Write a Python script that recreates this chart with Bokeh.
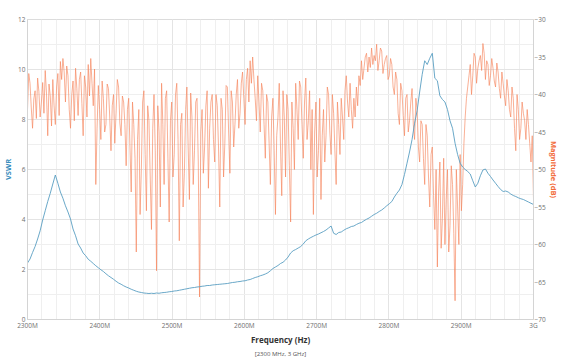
import numpy as np
from bokeh.plotting import figure
from bokeh.models import Range1d, LinearAxis, FixedTicker, Title
from bokeh.embed import file_html
from bokeh.resources import INLINE

# ---- data -------------------------------------------------------------
FREQ_START_MHZ = 2300
FREQ_STOP_MHZ = 3000
N_VSWR = 201
N_DB = 401
freq_vswr = np.linspace(FREQ_START_MHZ, FREQ_STOP_MHZ, N_VSWR)
freq_db = np.linspace(FREQ_START_MHZ, FREQ_STOP_MHZ, N_DB)

# S11 VSWR (left axis)
s11_vswr = [
    2.26, 2.42, 2.68, 2.92, 3.22, 3.55, 3.98, 4.35, 4.72, 5.05,
    5.42, 5.78, 5.45, 5.10, 4.85, 4.55, 4.30, 4.02, 3.62, 3.35,
    3.02, 2.86, 2.66, 2.55, 2.41, 2.33, 2.24, 2.15, 2.07, 1.99,
    1.92, 1.83, 1.75, 1.68, 1.61, 1.53, 1.46, 1.41, 1.35, 1.30,
    1.26, 1.21, 1.17, 1.13, 1.10, 1.08, 1.06, 1.05, 1.04, 1.05,
    1.04, 1.06, 1.05, 1.07, 1.08, 1.09, 1.11, 1.12, 1.14, 1.15,
    1.17, 1.19, 1.21, 1.23, 1.25, 1.27, 1.28, 1.30, 1.31, 1.33,
    1.34, 1.36, 1.36, 1.38, 1.39, 1.40, 1.41, 1.42, 1.43, 1.44,
    1.46, 1.48, 1.49, 1.51, 1.52, 1.54, 1.55, 1.58, 1.60, 1.64,
    1.68, 1.71, 1.75, 1.78, 1.82, 1.87, 1.95, 2.04, 2.10, 2.16,
    2.24, 2.29, 2.38, 2.50, 2.66, 2.75, 2.80, 2.86, 2.92, 3.02,
    3.15, 3.22, 3.28, 3.33, 3.38, 3.42, 3.47, 3.52, 3.58, 3.66,
    3.74, 3.45, 3.40, 3.48, 3.50, 3.57, 3.63, 3.67, 3.72, 3.74,
    3.80, 3.85, 3.88, 3.95, 4.01, 4.06, 4.13, 4.20, 4.25, 4.32,
    4.38, 4.46, 4.55, 4.63, 4.72, 4.90, 5.05, 5.18, 5.40, 5.80,
    6.25, 6.70, 7.20, 7.85, 8.35, 9.10, 9.80, 10.35, 10.20, 10.45,
    10.65, 9.65, 9.55, 8.95, 8.80, 8.70, 8.40, 7.95, 7.65, 7.05,
    6.60, 6.25, 6.10, 6.00, 5.92, 5.82, 5.55, 5.30, 5.45, 5.75,
    5.98, 6.02, 5.85, 5.72, 5.58, 5.45, 5.32, 5.20, 5.12, 5.14,
    5.10, 5.02, 4.96, 4.92, 4.87, 4.83, 4.80, 4.75, 4.70, 4.65,
    4.60,
]

# S21 magnitude in dB (right axis)
s21_db = [
    -42.0, -37.2, -38.5, -41.8, -44.5, -40.6, -39.5, -43.2, -37.8, -39.6,
    -43.0, -41.0, -38.4, -42.5, -36.8, -39.8, -45.5, -38.6, -40.2, -44.2,
    -38.0, -41.5, -44.0, -39.0, -37.2, -42.8, -35.6, -38.0, -35.2, -37.0,
    -41.0, -36.2, -37.5, -42.0, -44.5, -40.0, -38.2, -43.5, -36.5, -39.2,
    -42.8, -38.0, -37.0, -41.2, -45.5, -37.5, -39.0, -43.0, -36.0, -40.2,
    -35.2, -38.5, -41.5, -36.6, -52.0, -44.5, -38.8, -42.0, -46.0, -38.2,
    -40.5, -45.0, -44.0, -38.6, -39.2, -43.0, -47.5, -41.5, -40.0, -46.5,
    -42.5, -38.0, -39.0, -43.8, -45.5, -40.2, -41.0, -44.0, -49.5, -42.0,
    -40.5, -47.0, -53.0, -41.0, -44.0, -48.5, -61.0, -46.0, -42.0, -56.0,
    -50.0, -41.0, -39.5, -48.0, -55.5, -41.5, -43.5, -51.0, -58.0, -44.5,
    -40.0, -47.5, -63.5, -41.5, -45.0, -55.0, -38.5, -44.0, -52.0, -40.5,
    -39.5, -48.5, -57.0, -43.5, -41.0, -51.0, -48.0, -40.0, -38.5, -46.0,
    -59.5, -44.0, -42.5, -55.0, -50.5, -42.0, -39.0, -47.0, -54.0, -39.8,
    -43.0, -52.0, -47.5, -41.0, -40.5, -49.0, -67.0, -45.0, -42.0, -50.5,
    -47.0, -41.5, -39.5, -52.5, -44.5, -41.0, -40.0, -46.0, -49.0, -40.0,
    -41.5, -47.0, -55.0, -40.5, -42.0, -51.0, -46.5, -38.8, -39.0, -45.0,
    -50.5, -39.5, -41.0, -47.0, -44.0, -40.0, -38.0, -44.5, -42.5, -38.5,
    -37.0, -40.5, -44.0, -38.0, -36.5, -41.0, -35.5, -38.5, -35.0, -38.0,
    -40.5, -43.5, -37.5, -41.0, -45.0, -38.5, -39.5, -44.0, -48.5, -40.0,
    -41.0, -46.5, -52.0, -43.0, -40.5, -47.5, -56.0, -45.5, -43.0, -38.5,
    -47.0, -53.5, -39.5, -43.0, -51.0, -40.0, -42.0, -49.5, -57.0, -41.0,
    -44.5, -50.0, -38.5, -42.0, -46.0, -38.2, -39.0, -44.0, -48.5, -41.0,
    -37.8, -46.0, -43.5, -39.5, -50.0, -42.0, -56.0, -45.0, -41.0, -51.0,
    -47.5, -40.5, -54.0, -45.5, -42.0, -49.0, -45.5, -39.0, -40.0, -45.0,
    -48.0, -40.0, -42.5, -47.5, -52.0, -41.0, -44.0, -48.0, -40.5, -43.0,
    -46.0, -39.5, -37.5, -41.0, -43.0, -38.5, -42.0, -44.5, -40.5, -43.0,
    -39.0, -41.5, -37.5, -38.8, -35.5, -38.0, -36.5, -35.0, -34.5, -37.0,
    -35.0, -36.4, -33.8, -36.0, -34.8, -35.5, -33.3, -36.8, -35.5, -33.8,
    -34.2, -37.2, -36.0, -35.2, -34.8, -38.0, -37.5, -35.2, -36.0, -39.0,
    -40.0, -37.0, -38.0, -42.5, -44.0, -38.5, -39.5, -42.8, -45.5, -40.5,
    -40.0, -45.0, -43.5, -41.0, -39.2, -44.0, -46.0, -40.5, -42.0, -47.0,
    -49.0, -43.5, -44.0, -48.5, -52.0, -44.0, -45.5, -51.0, -55.0, -48.0,
    -47.0, -53.5, -58.0, -50.0, -63.0, -53.0, -49.0, -60.5, -56.5, -48.5,
    -60.0, -54.0, -50.0, -61.0, -57.5, -49.5, -52.0, -58.5, -67.5, -50.0,
    -55.0, -60.0, -48.0, -55.5, -52.0, -46.5, -43.0, -40.5, -39.0, -37.5,
    -36.0, -40.0, -37.5, -34.5, -35.0, -38.5, -36.5, -35.5, -34.8, -36.8,
    -33.2, -34.5, -38.0, -35.5, -36.0, -38.8, -37.5, -35.2, -36.5, -38.2,
    -39.0, -35.8, -37.0, -39.2, -40.5, -37.0, -38.5, -40.2, -41.5, -38.0,
    -39.5, -42.0, -43.0, -39.0, -40.5, -44.5, -47.5, -40.0, -42.0, -46.0,
    -44.5, -41.0, -42.5, -43.5, -46.0, -42.0, -44.0, -46.5, -49.0, -45.5,
    -54.0,
]

x_ticks = [2300, 2400, 2500, 2600, 2700, 2800, 2900, 3000]
x_tick_labels = ["2300M", "2400M", "2500M", "2600M", "2700M", "2800M", "2900M", "3G"]
x_minor_ticks = [2300 + 20 * k for k in range(36)]
vswr_ticks = [0, 2, 4, 6, 8, 10, 12]
vswr_minor_ticks = [1, 3, 5, 7, 9, 11]
db_ticks = [-70, -65, -60, -55, -50, -45, -40, -35, -30]

# ---- styling ----------------------------------------------------------
BLUE = "#5a9fc2"
ORANGE = "#f5825a"
TICK_COLOR = "#707070"
FONT = "Open Sans"

p = figure(
    width=560, height=357,
    x_range=Range1d(FREQ_START_MHZ, FREQ_STOP_MHZ),
    y_range=Range1d(0, 12),
    output_backend="svg", toolbar_location=None,
    min_border_left=27, min_border_right=14, min_border_top=19, min_border_bottom=35,
    background_fill_color="white", border_fill_color="white",
)
p.extra_y_ranges = {"db": Range1d(-70, -30)}

p.line(freq_db, s21_db, y_range_name="db", line_color=ORANGE, line_width=0.8, line_alpha=0.8)
p.line(freq_vswr, s11_vswr, line_color=BLUE, line_width=1, line_alpha=0.9)

right_axis = LinearAxis(y_range_name="db")
p.add_layout(right_axis, "right")

# right-hand axis title as a side title (tighter than an axis label)
db_title = Title(text="Magnitude (dB)", align="center", text_font=FONT,
                 text_font_size="7.5px", text_font_style="bold", text_color="#f26b3a",
                 standoff=0, offset=0)
p.add_layout(db_title, "right")

p.xaxis.ticker = FixedTicker(ticks=x_ticks, minor_ticks=x_minor_ticks)
p.xaxis.major_label_overrides = {t: l for t, l in zip(x_ticks, x_tick_labels)}
p.yaxis[0].ticker = FixedTicker(ticks=vswr_ticks, minor_ticks=vswr_minor_ticks)
right_axis.ticker = FixedTicker(ticks=db_ticks)

p.xaxis.axis_label = "Frequency (Hz)"
p.yaxis[0].axis_label = "VSWR"

for ax in [p.xaxis[0], p.yaxis[0], right_axis]:
    ax.axis_line_color = "#d4d4d4"
    ax.major_tick_line_color = None
    ax.minor_tick_line_color = None
    ax.major_tick_out = 0
    ax.major_tick_in = 0
    ax.minor_tick_out = 0
    ax.minor_tick_in = 0
    ax.major_label_text_font = FONT
    ax.major_label_text_font_size = "6.5px"
    ax.major_label_text_color = TICK_COLOR
    ax.major_label_standoff = 2
    ax.axis_label_text_font = FONT
    ax.axis_label_text_font_style = "bold"
    ax.axis_label_text_font_size = "7.5px"
    ax.axis_label_standoff = 2

p.xaxis.major_label_standoff = 1
p.xaxis.axis_label_standoff = 1
p.xaxis.axis_label_text_color = "#333333"
p.xaxis.axis_label_text_font_size = "8px"
p.yaxis[0].axis_label_text_color = "#3a8dbd"
right_axis.major_label_standoff = 1

p.xgrid.grid_line_color = "#e4e4e4"
p.ygrid.grid_line_color = "#e4e4e4"
p.xgrid.minor_grid_line_color = "#efefef"
p.ygrid.minor_grid_line_color = "#efefef"
p.outline_line_color = "#dcdcdc"

range_note = Title(text="[2300 MHz, 3 GHz]", align="center", text_font=FONT,
                   text_font_size="6px", text_font_style="normal", text_color="#555555",
                   standoff=0)
p.add_layout(range_note, "below")

open("out.html", "w").write(file_html(p, INLINE))
